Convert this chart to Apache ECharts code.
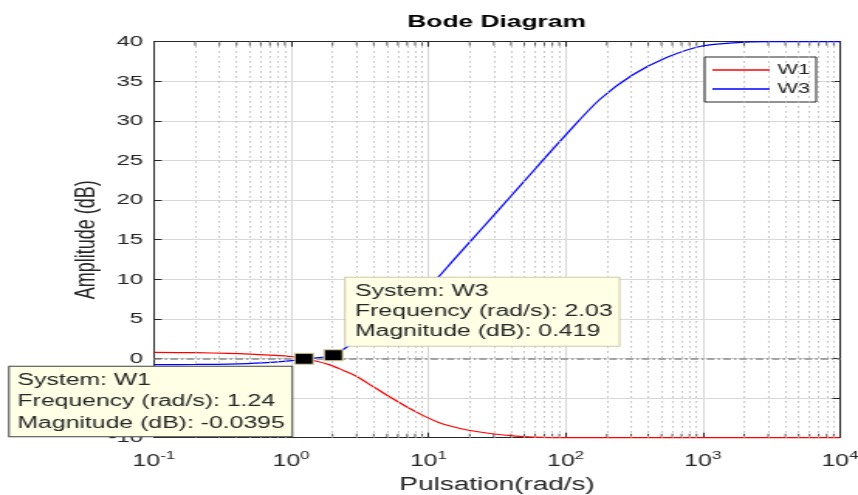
<!DOCTYPE html>
<html>
<head>
<meta charset="utf-8">
<script src="https://cdn.jsdelivr.net/npm/echarts@6/dist/echarts.min.js"></script>
<style>
html,body{margin:0;padding:0;background:#fff;}
#wrap{width:858px;height:495px;overflow:hidden;position:relative;}
#c{width:554px;height:495px;transform:scaleX(1.5487);transform-origin:0 0;}
</style>
</head>
<body>
<div id="wrap"><div id="c"></div></div>
<script>
// ---- data ----
const seriesNames = ['W1', 'W3'];
const freqW1 = [0.1, 0.2, 0.35, 0.5, 0.7, 1.0, 1.24, 1.43, 1.89, 2.4, 2.96, 3.92, 5.18, 6.88, 9.1, 12, 14.2, 18.8, 29, 43.5, 65, 100, 200, 500, 1000, 3000, 10000];
const magW1  = [0.77, 0.73, 0.65, 0.56, 0.43, 0.25, -0.04, -0.22, -0.77, -1.5, -2.2, -3.5, -4.8, -6.06, -7.18, -8.1, -8.5, -9.0, -9.5, -9.8, -9.95, -10, -10, -10, -10, -10, -10];
const freqW3 = [0.1, 0.2, 0.35, 0.62, 0.97, 1.4, 2.03, 2.5, 3, 4, 5, 6, 7, 8.5, 10, 12, 15, 20, 30.4, 50, 100, 177, 307, 544, 948, 1660, 3000, 6000, 10000];
const magW3  = [-0.77, -0.75, -0.7, -0.55, -0.3, 0.0, 0.419, 1.35, 2.2, 3.5, 4.7, 5.8, 6.7, 7.9, 9.0, 10.4, 12.3, 14.7, 18.2, 22.4, 28.2, 32.7, 35.8, 38.0, 39.4, 39.85, 40, 40, 40];
const tipFreq = [1.24, 2.03];
const tipMag  = [-0.0395, 0.419];
const minorTicks = [0.2,0.3,0.4,0.5,0.6,0.7,0.8,0.9, 2,3,4,5,6,7,8,9, 20,30,40,50,60,70,80,90, 200,300,400,500,600,700,800,900, 2000,3000,4000,5000,6000,7000,8000,9000];
const yMin = -10, yMax = 40, yStep = 5;
const xMin = 0.1, xMax = 10000;

const FONT = '"Liberation Sans", Arial, sans-serif';
const TXT = '#262626';

function pairs(xs, ys) { return xs.map((x, i) => [x, ys[i]]); }
function tipText(i) {
  return 'System: ' + seriesNames[i] + '\nFrequency (rad/s): ' + tipFreq[i] + '\nMagnitude (dB): ' + tipMag[i];
}
const tipLabelBase = {
  show: true, position: 'inside', align: 'left', fontFamily: FONT, fontSize: 16,
  color: TXT, backgroundColor: '#ffffe6', borderWidth: 1
};

const chart = echarts.init(document.getElementById('c'), null, {renderer: 'canvas'});
const option = {
  animation: false,
  backgroundColor: '#fff',
  textStyle: {fontFamily: FONT},
  title: {
    text: 'Bode Diagram', left: 263, top: 14, padding: 0,
    textStyle: {fontFamily: FONT, fontSize: 17, fontWeight: 'bold', color: '#000'}
  },
  grid: {left: 99.4, width: 443, top: 41.7, height: 396, outerBoundsMode: 'none', containLabel: false},
  legend: {
    data: seriesNames, orient: 'vertical', left: 455, top: 57, icon: 'rect',
    padding: [6, 4, 6, 5], itemGap: 5, itemWidth: 37, itemHeight: 1.4,
    backgroundColor: '#fff', borderColor: '#262626', borderWidth: 1,
    textStyle: {fontFamily: FONT, fontSize: 14, color: TXT, lineHeight: 14}, selectedMode: false
  },
  xAxis: [{
    type: 'log', logBase: 10, min: xMin, max: xMax, splitNumber: 5, position: 'bottom',
    axisLine: {onZero: false, lineStyle: {color: TXT, width: 1}},
    axisTick: {inside: true, length: 5, lineStyle: {color: TXT}},
    axisLabel: {
      margin: 13, color: TXT, fontFamily: FONT,
      formatter: function (v) { return '{b|10}{s|' + Math.round(Math.log10(v)) + '}'; },
      rich: {
        b: {fontSize: 16, lineHeight: 19, verticalAlign: 'bottom', fontFamily: FONT, color: TXT},
        s: {fontSize: 11, lineHeight: 11, verticalAlign: 'top', fontFamily: FONT, color: TXT}
      }
    },
    splitLine: {show: true, lineStyle: {color: '#d8d8d8', width: 1}},
    name: 'Pulsation(rad/s)', nameLocation: 'middle', nameGap: 38, nameMoveOverlap: false,
    nameTextStyle: {fontFamily: FONT, fontSize: 18, color: TXT}
  }, {
    type: 'log', logBase: 10, min: xMin, max: xMax, splitNumber: 5, position: 'top',
    axisLine: {onZero: false, lineStyle: {color: TXT, width: 1}},
    axisTick: {inside: true, length: 5, lineStyle: {color: TXT}},
    axisLabel: {show: false}, splitLine: {show: false}
  }],
  yAxis: [{
    type: 'value', min: yMin, max: yMax, interval: yStep, position: 'left',
    axisLine: {show: true, lineStyle: {color: TXT, width: 1}},
    axisTick: {show: true, inside: true, length: 5, lineStyle: {color: TXT}},
    axisLabel: {margin: 7, fontSize: 15.5, color: TXT, fontFamily: FONT},
    splitLine: {show: true, lineStyle: {color: '#d8d8d8', width: 1}},
    name: 'Amplitude (dB)', nameLocation: 'middle', nameGap: 34.5, nameMoveOverlap: false,
    nameTextStyle: {fontFamily: FONT, fontSize: 18, color: TXT}
  }, {
    type: 'value', min: yMin, max: yMax, interval: yStep, position: 'right',
    axisLine: {show: true, lineStyle: {color: TXT, width: 1}},
    axisTick: {show: true, inside: true, length: 5, lineStyle: {color: TXT}},
    axisLabel: {show: false}, splitLine: {show: false}
  }],
  series: [
    {
      name: '_grid', type: 'line', data: [], silent: true, z: 1,
      markLine: {
        silent: true, symbol: ['none', 'none'], label: {show: false}, animation: false,
        data: minorTicks.map(v => ({xAxis: v, lineStyle: {color: '#b8b8b8', type: [1.5, 3.5], width: 1}}))
          .concat([{yAxis: 0, lineStyle: {color: '#8a8a8a', type: [5, 2, 1.5, 2], width: 1.5}}])
      }
    },
    {
      name: '_minorTicksBottom', type: 'scatter', silent: true, clip: false, z: 3,
      symbol: 'rect', symbolSize: [1, 4], symbolOffset: [0, -2],
      itemStyle: {color: TXT},
      data: minorTicks.map(v => [v, yMin])
    },
    {
      name: '_minorTicksTop', type: 'scatter', silent: true, clip: false, z: 3,
      symbol: 'rect', symbolSize: [1, 4], symbolOffset: [0, 2],
      itemStyle: {color: TXT},
      data: minorTicks.map(v => [v, yMax])
    },
    {
      name: 'W1', type: 'line', data: pairs(freqW1, magW1), symbol: 'none', smooth: 0.3,
      clip: false, z: 4, lineStyle: {color: '#ff0000', width: 1.2}, itemStyle: {color: '#ff0000'},
      markPoint: {
        silent: true, symbol: 'rect', symbolSize: [12, 11], z: 10,
        itemStyle: {color: '#000', borderColor: '#d8cfa0', borderWidth: 1},
        data: [{
          coord: [tipFreq[0], tipMag[0]],
          label: Object.assign({}, tipLabelBase, {
            verticalAlign: 'top', width: 170, lineHeight: 21.5,
            padding: [3, 7, 2, 5], offset: [-190, 8], borderColor: '#404040',
            formatter: function () { return tipText(0); }
          })
        }]
      }
    },
    {
      name: 'W3', type: 'line', data: pairs(freqW3, magW3), symbol: 'none', smooth: 0.3,
      clip: false, z: 4, lineStyle: {color: '#0000ff', width: 1.2}, itemStyle: {color: '#0000ff'},
      markPoint: {
        silent: true, symbol: 'rect', symbolSize: [12, 11], z: 10,
        itemStyle: {color: '#000', borderColor: '#d8cfa0', borderWidth: 1},
        data: [{
          coord: [tipFreq[1], tipMag[1]],
          label: Object.assign({}, tipLabelBase, {
            verticalAlign: 'bottom', lineHeight: 20,
            padding: [4, 4, 4, 6], offset: [8, -9.5], borderColor: '#cfcaa8',
            formatter: function () { return tipText(1); }
          })
        }]
      }
    }
  ]
};
chart.setOption(option);
</script>
</body>
</html>
